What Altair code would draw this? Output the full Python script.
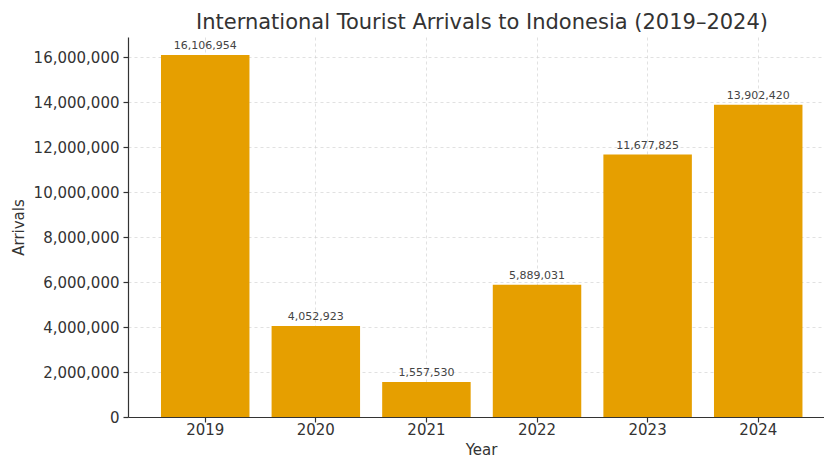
import altair as alt
import pandas as pd

years = ["2019", "2020", "2021", "2022", "2023", "2024"]
arrivals = [16106954, 4052923, 1557530, 5889031, 11677825, 13902420]

df = pd.DataFrame({"Year": years, "Arrivals": arrivals})

FONT = "DejaVu Sans"
ymax = max(arrivals) * 1.05

base = alt.Chart(df)

x_enc = alt.X(
    "Year:N",
    sort=years,
    scale=alt.Scale(paddingInner=0.2, paddingOuter=0.2465, align=0.605),
    axis=alt.Axis(
        title="Year",
        labelAngle=0,
        labelFontSize=15,
        labelPadding=0,
        titleFontSize=15,
        titleX=353,
        titlePadding=5,
        tickSize=5,
    ),
)

y_enc = alt.Y(
    "Arrivals:Q",
    scale=alt.Scale(domain=[0, ymax], nice=False, zero=True),
    axis=alt.Axis(
        title="Arrivals",
        format=",d",
        values=[0, 2000000, 4000000, 6000000, 8000000, 10000000, 12000000, 14000000, 16000000],
        labelFontSize=15,
        labelPadding=4,
        titleFontSize=15,
        titlePadding=7,
        tickSize=5,
    ),
)

bars = base.mark_bar(color="#E69F00").encode(x=x_enc, y=y_enc)

labels = base.mark_text(
    baseline="bottom", dy=-4, fontSize=11, color="#444444", font=FONT
).encode(
    x=alt.X("Year:N", sort=years),
    y=alt.Y("Arrivals:Q"),
    text=alt.Text("Arrivals:Q", format=","),
)

chart = (
    alt.layer(bars, labels)
    .properties(
        width=696,
        height=380,
        autosize=alt.AutoSizeParams(type="none"),
        padding={"left": 128, "top": 37, "right": 0, "bottom": 40},
        title=alt.TitleParams(
            "International Tourist Arrivals to Indonesia (2019–2024)",
            fontSize=21,
            font=FONT,
            fontWeight="normal",
            color="#333333",
            anchor="middle",
            dx=6,
            offset=4,
        ),
    )
    .configure_view(stroke=None)
    .configure_axis(
        labelFont=FONT,
        titleFont=FONT,
        labelColor="#333333",
        titleColor="#333333",
        titleFontWeight="normal",
        domainColor="#333333",
        domainWidth=1.2,
        tickColor="#333333",
        tickWidth=1.2,
        gridColor="#d0d0d0",
        gridOpacity=0.8,
        gridDash=[3, 3],
        gridWidth=0.8,
        grid=True,
        zindex=1,
    )
)

chart.save("out.html", embed_options={"renderer": "svg", "actions": False})
